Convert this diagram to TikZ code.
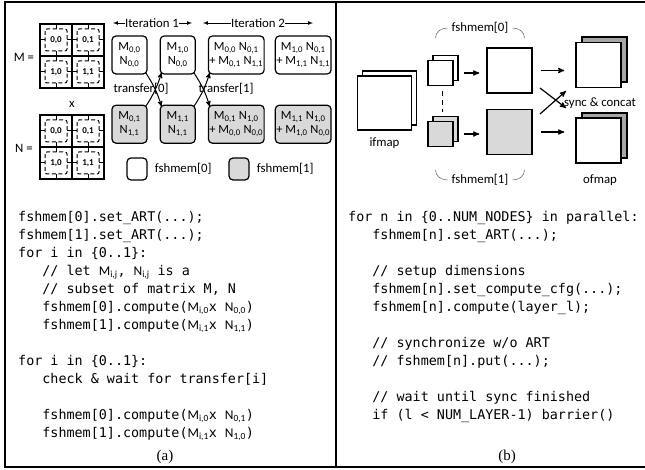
\documentclass[tikz,border=0pt]{standalone}
\usepackage{fontspec}
\setmainfont{Carlito}
\setmonofont{DejaVu Sans Mono}
\newfontfamily\capfont{Liberation Serif}
\usepackage{tikz}
\usetikzlibrary{arrows,positioning}
\newcommand{\ix}[1]{\textsubscript{#1}}
\newcommand{\ind}{\hspace*{24.2pt}}
\newcommand{\mx}[2]{{\rmfamily #1\textsubscript{#2}}}
\tikzstyle{border line}=[line width=1.3pt]
\tikzstyle{tile}=[draw,line width=1.2pt,rounded corners=4pt,align=center,inner sep=1pt,minimum height=38pt,font=\fontsize{12.5}{14}\selectfont]
\tikzstyle{grey tile}=[tile,fill=black!15]
\tikzstyle{lbl}=[font=\fontsize{12.8}{14}\selectfont,inner sep=0pt]
\tikzstyle{cell lbl}=[font=\bfseries\fontsize{9}{9}\selectfont,inner sep=0pt]
\tikzstyle{sheet}=[draw,line width=1.4pt,fill=white,inner sep=0pt]
\tikzstyle{flow}=[->,>=stealth',line width=1.2pt]
\tikzstyle{xfer}=[->,>=stealth',line width=1pt]
\tikzstyle{iter}=[->,>=latex,line width=0.7pt]
\tikzstyle{brc}=[draw=black!55,line width=0.6pt]
\tikzstyle{code}=[font=\ttfamily\fontsize{13.4}{18}\selectfont,align=left,inner sep=0pt,anchor=north west]
\tikzstyle{caption lbl}=[font=\capfont\fontsize{15}{15}\selectfont,inner sep=0pt]

\begin{document}
\begin{tikzpicture}[x=1pt,y=1pt]
  \useasboundingbox (0,0) rectangle (645,-470);
  % frame
  \draw[border line] (650,-2) -- (5,-2) -- (5,-467) -- (650,-467);
  \draw[border line] (336,-2) -- (336,-467);

  % (a) blocked matrices
  \node[lbl] (meq) at (24,-57) {M =};
  \node[lbl] (neq) at (24,-148) {N =};
  \node[lbl] (times) at (72,-104) {x};
  \foreach \gy in {24,115} {
    \foreach \row in {0,1} \foreach \col in {0,1} {
      \pgfmathsetmacro{\cx}{40+32*\col}
      \pgfmathsetmacro{\cy}{-\gy-32*\row}
      \begin{scope}[shift={(\cx,\cy)}]
        \draw[line width=1pt,dash pattern=on 4pt off 2.5pt,rounded corners=2pt] (5,-5) rectangle (27,-27);
        \draw[line width=1pt] (0,-16) -- (5,-16) (27,-16) -- (32,-16) (16,0) -- (16,-5) (16,-27) -- (16,-32);
        \node[cell lbl] at (16,-16) {\row,\col};
      \end{scope}
    }
    \draw[line width=1.6pt] (40,-\gy) rectangle (104,-\gy-64) (72,-\gy) -- (72,-\gy-64) (40,-\gy-32) -- (104,-\gy-32);
  }

  % iterations
  \node[lbl] (it1) at (152,-23) {Iteration 1};
  \coordinate (it1l) at (113,-23);
  \coordinate (it1r) at (192,-23);
  \node[lbl] (it2) at (258,-23) {Iteration 2};
  \coordinate (it2l) at (203,-23);
  \coordinate (it2r) at (313,-23);
  \draw[iter] (it1.west) -- (it1l);
  \draw[iter] (it1.east) -- (it1r);
  \draw[iter] (it2.west) -- (it2l);
  \draw[iter] (it2.east) -- (it2r);

  \node[tile,minimum width=35pt] (t1) at (129.5,-55) {M\ix{0,0}\\N\ix{0,0}};
  \node[tile,minimum width=35pt,right=12pt of t1] (t2) {M\ix{1,0}\\N\ix{0,0}};
  \node[tile,minimum width=54pt,right=12pt of t2] (t3) {M\ix{0,0} N\ix{0,1}\\+ M\ix{0,1} N\ix{1,1}};
  \node[tile,minimum width=53pt,right=10pt of t3] (t4) {M\ix{1,0} N\ix{0,1}\\+ M\ix{1,1} N\ix{1,1}};
  \node[grey tile,minimum width=35pt,below=30pt of t1] (b1) {M\ix{0,1}\\N\ix{1,1}};
  \node[grey tile,minimum width=35pt,below=30pt of t2] (b2) {M\ix{1,1}\\N\ix{1,1}};
  \node[grey tile,minimum width=54pt,below=30pt of t3] (b3) {M\ix{0,1} N\ix{1,0}\\+ M\ix{0,0} N\ix{0,0}};
  \node[grey tile,minimum width=53pt,below=30pt of t4] (b4) {M\ix{1,1} N\ix{1,0}\\+ M\ix{1,0} N\ix{0,0}};

  \draw[xfer] ([shift={(-2,2)}]t1.south east) to[bend left=8] ([shift={(2,-2)}]b2.north west);
  \draw[xfer] ([shift={(-2,-2)}]b1.north east) to[bend right=8] ([shift={(2,2)}]t2.south west);
  \draw[xfer] ([shift={(-2,2)}]t2.south east) to[bend left=8] ([shift={(2,-2)}]b3.north west);
  \draw[xfer] ([shift={(-2,-2)}]b2.north east) to[bend right=8] ([shift={(2,2)}]t3.south west);
  \node[lbl] (tr0) at (141,-89) {transfer[0]};
  \node[lbl] (tr1) at (226,-89) {transfer[1]};

  % legend
  \node[tile,minimum width=20pt,minimum height=22pt] (lg0) at (137,-169) {};
  \node[lbl,right=7pt of lg0] (lg0t) {fshmem[0]};
  \node[grey tile,minimum width=20pt,minimum height=22pt] (lg1) at (239,-169) {};
  \node[lbl,right=7pt of lg1] (lg1t) {fshmem[1]};

  \node[code] (codeA) at (18,-211) {fshmem[0].set\_ART(...);\\
fshmem[1].set\_ART(...);\\
for i in \{0..1\}:\\
\ind // let \mx{M}{i,j}, \mx{N}{i,j} is a\\
\ind // subset of matrix M, N\\
\ind fshmem[0].compute(\mx{M}{i,0}x \mx{N}{0,0})\\
\ind fshmem[1].compute(\mx{M}{i,1}x \mx{N}{1,1})\\
\mbox{}\\
for i in \{0..1\}:\\
\ind check \& wait for transfer[i]\\
\mbox{}\\
\ind fshmem[0].compute(\mx{M}{i,0}x \mx{N}{0,1})\\
\ind fshmem[1].compute(\mx{M}{i,1}x \mx{N}{1,0})};
  \node[caption lbl] (capA) at (165,-457) {(a)};

  % (b) data parallel layers
  \node[sheet,minimum size=54pt] (ifmapB) at (389.5,-98) {};
  \node[sheet,minimum size=54pt] (ifmap) at (384.5,-103) {};
  \node[lbl,below=7pt of ifmap] (ifl) {ifmap};

  \node[sheet,minimum size=25pt] (s0B) at (445.5,-68) {};
  \node[sheet,minimum size=25pt] (s0) at (440.5,-73) {};
  \node[sheet,minimum size=25pt,fill=black!15] (s1B) at (445.5,-129) {};
  \node[sheet,minimum size=25pt,fill=black!15] (s1) at (440.5,-134) {};
  \draw[line width=1.4pt,dash pattern=on 5pt off 4pt,shorten <=5pt,shorten >=4pt] ([xshift=2pt]s0.south) -- ([xshift=2pt]s1B.north -| s0.south);

  \node[sheet,minimum size=45pt] (w0) at (509.5,-70.5) {};
  \node[sheet,minimum size=45pt,fill=black!15] (w1) at (509.5,-132) {};
  \draw[flow,shorten <=10pt,shorten >=7pt] (s0.east) -- (s0.east -| w0.west);
  \draw[flow,shorten <=10pt,shorten >=7pt] (s1.east) -- (s1.east -| w1.west);

  \node[lbl] (f0) at (480,-28) {fshmem[0]};
  \node[lbl] (f1) at (480,-180) {fshmem[1]};
  \draw[brc] ([xshift=-4pt]f0.west) to[out=180,in=90] +(-12,-10);
  \draw[brc] ([xshift=4pt]f0.east) to[out=0,in=90] +(12,-10);
  \draw[brc] ([xshift=-4pt]f1.west) to[out=180,in=-90] +(-12,10);
  \draw[brc] ([xshift=4pt]f1.east) to[out=0,in=-90] +(12,10);

  \node[sheet,minimum size=45pt,fill=black!35] (o0B) at (604.5,-59.5) {};
  \node[sheet,minimum size=45pt] (o0) at (598.5,-65) {};
  \node[sheet,minimum size=45pt,fill=black!35] (o1B) at (604.5,-135.5) {};
  \node[sheet,minimum size=45pt] (o1) at (598.5,-140.5) {};
  \node[lbl] (ofl) at (600,-180) {ofmap};
  \draw[flow,shorten <=8pt,shorten >=11pt] (w0.east) -- (w0.east -| o0.west);
  \draw[flow,shorten <=8pt,shorten >=11pt] (w1.east) -- (w1.east -| o1.west);

  \coordinate (xa) at (540,-88);
  \coordinate (xb) at (566,-108);
  \coordinate (xc) at (540,-114);
  \coordinate (xd) at (566,-91);
  \draw[flow] (xa) -- (xb);
  \draw[flow] (xc) -- (xd);
  \node[lbl] (sync) at (600,-103) {sync \& concat};

  \node[code] (codeB) at (348,-211) {for n in \{0..NUM\_NODES\} in parallel:\\
\ind fshmem[n].set\_ART(...);\\
\mbox{}\\
\ind // setup dimensions\\
\ind fshmem[n].set\_compute\_cfg(...);\\
\ind fshmem[n].compute(layer\_l);\\
\mbox{}\\
\ind // synchronize w/o ART\\
\ind // fshmem[n].put(...);\\
\mbox{}\\
\ind // wait until sync finished\\
\ind if (l < NUM\_LAYER-1) barrier()};
  \node[caption lbl] (capB) at (507,-457) {(b)};
\end{tikzpicture}
\end{document}
